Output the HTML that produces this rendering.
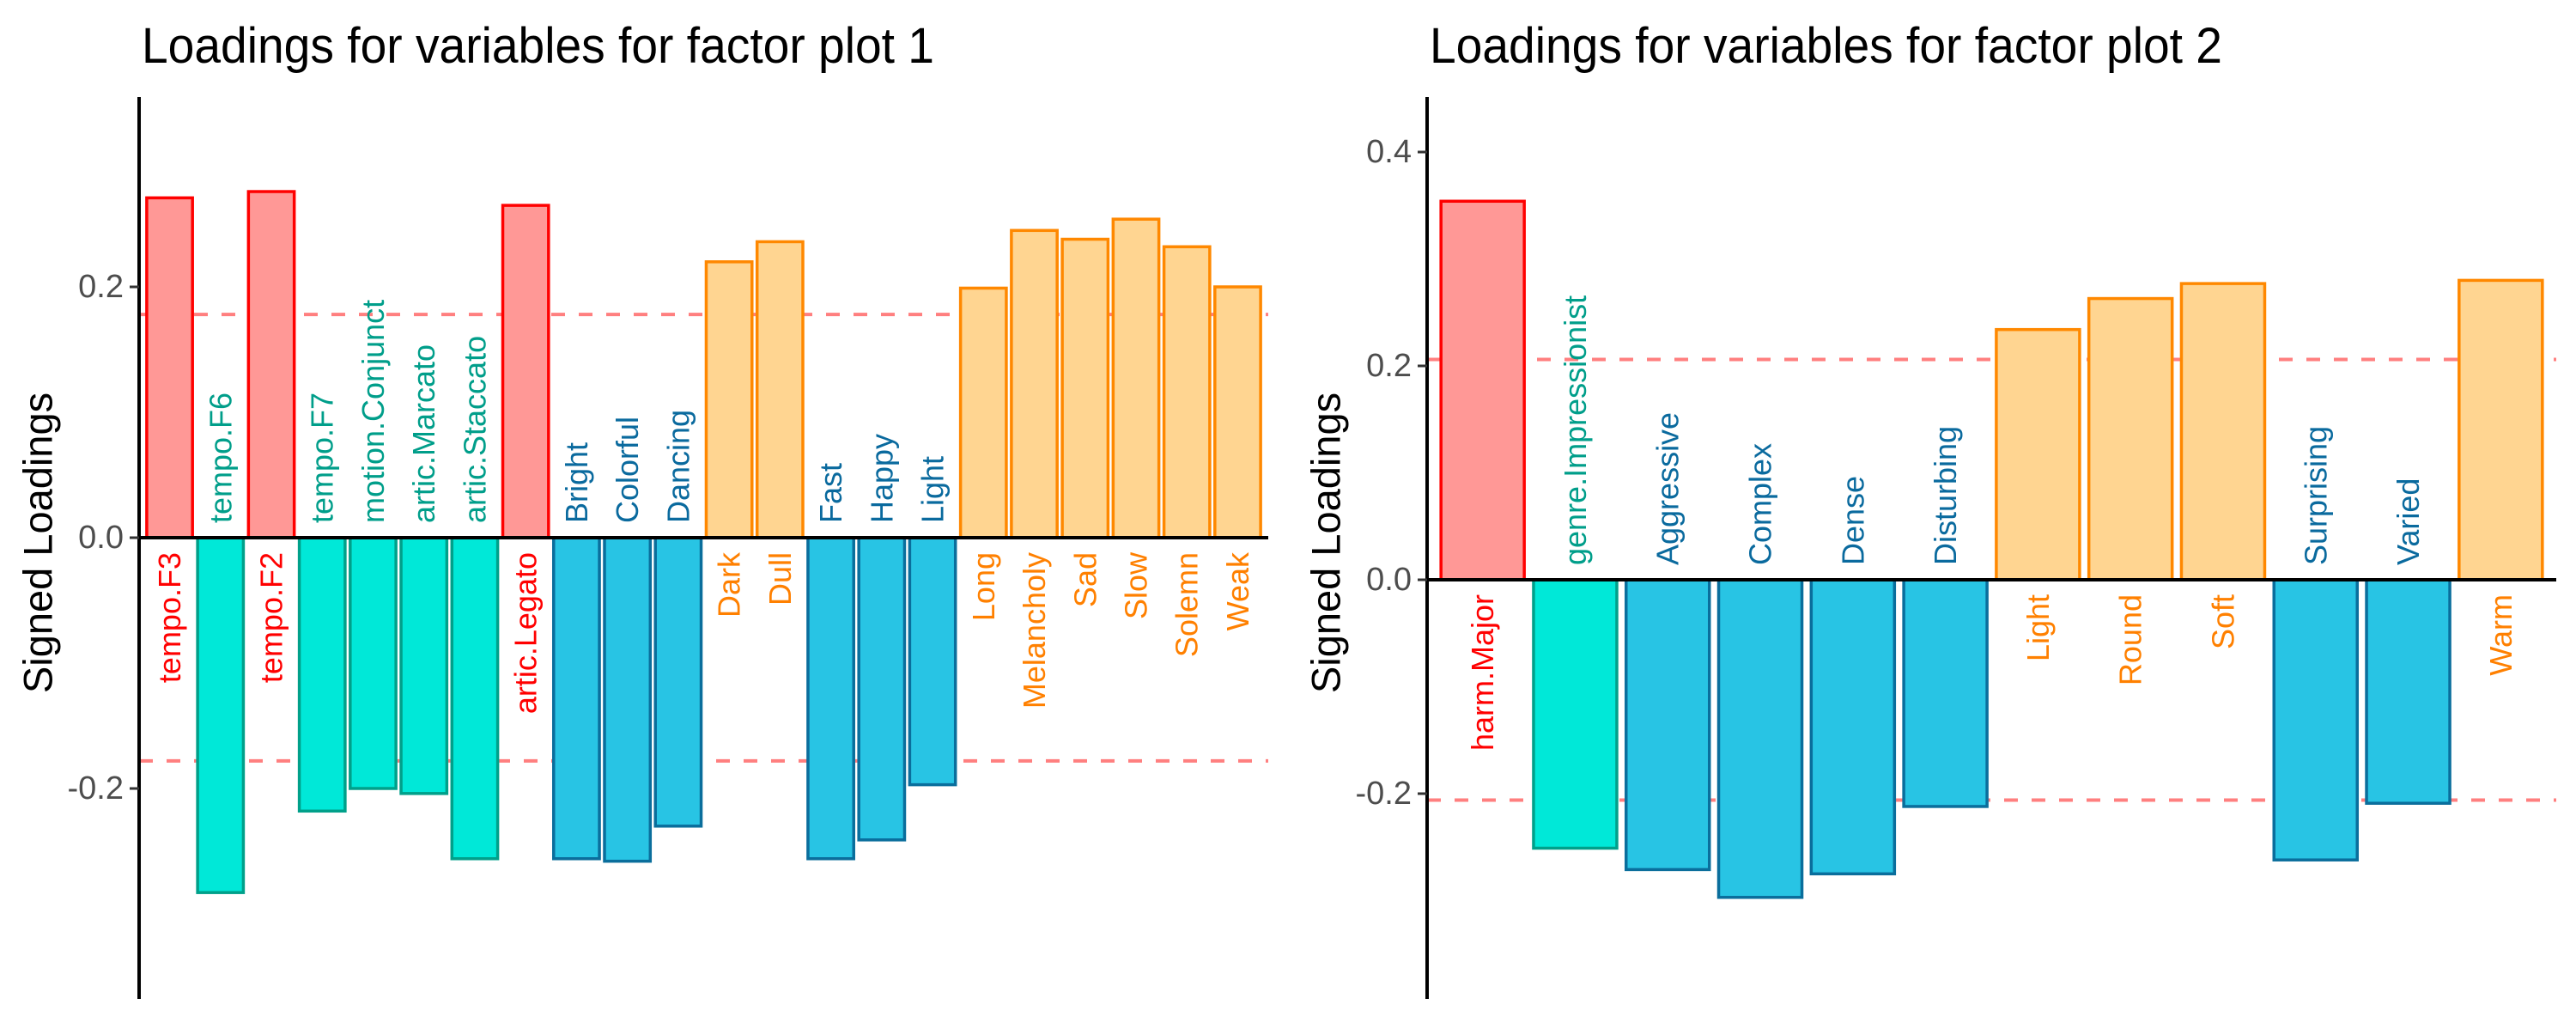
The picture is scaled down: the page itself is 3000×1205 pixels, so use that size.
<!DOCTYPE html>
<html><head><meta charset="utf-8"><style>
html,body{margin:0;padding:0;background:#fff;}
svg text{font-family:"Liberation Sans",Arial,sans-serif;}
</style></head><body>
<svg id="chart" width="3000" height="1200" xmlns="http://www.w3.org/2000/svg"></svg>
<script>
// ----- Panel 1 data -----
const cats1 = ["tempo.F3","tempo.F6","tempo.F2","tempo.F7","motion.Conjunct","artic.Marcato","artic.Staccato","artic.Legato","Bright","Colorful","Dancing","Dark","Dull","Fast","Happy","Light","Long","Melancholy","Sad","Slow","Solemn","Weak"];
const vals1 = [0.271,-0.283,0.276,-0.218,-0.2,-0.204,-0.256,0.265,-0.256,-0.258,-0.23,0.22,0.236,-0.256,-0.241,-0.197,0.199,0.245,0.238,0.254,0.232,0.2];
const groups1 = ["r","t","r","t","t","t","t","r","b","b","b","o","o","b","b","b","o","o","o","o","o","o"];
const ticks1 = [0.2,0.0,-0.2];
const tickLabels1 = ["0.2","0.0","-0.2"];
const thresh1 = [0.178];
// ----- Panel 2 data -----
const cats2 = ["harm.Major","genre.Impressionist","Aggressive","Complex","Dense","Disturbing","Light","Round","Soft","Surprising","Varied","Warm"];
const vals2 = [0.354,-0.251,-0.271,-0.297,-0.275,-0.212,0.234,0.263,0.277,-0.262,-0.209,0.28];
const groups2 = ["r","t","b","b","b","b","o","o","o","b","b","o"];
const ticks2 = [0.4,0.2,0.0,-0.2];
const tickLabels2 = ["0.4","0.2","0.0","-0.2"];
const thresh2 = [0.206];

const fills = {r:"#FF9896",t:"#00E8D8",b:"#28C4E4",o:"#FFD591"};
const strokes = {r:"#FF0000",t:"#00A08A",b:"#0A6E9C",o:"#FF8800"};
const txtCol = {r:"#FF0000",t:"#009E8A",b:"#0A6A9E",o:"#FF8000"};
const NS="http://www.w3.org/2000/svg";
const svg=document.getElementById('chart');
function mk(tag,attrs,parent){const e=document.createElementNS(NS,tag);for(const k in attrs)e.setAttribute(k,attrs[k]);(parent||svg).appendChild(e);return e;}

function panel(ox,title,cats,vals,groups,ticks,tickLabels,thresh,zeroY,pxPerUnit,idx){
  const g=mk('g',{});
  
  
  const x0=ox+162, x1=ox+1477, yTop=113, yBot=1163;
  const n=cats.length, band=(x1-x0)/(n-1+1.2);
  const xc=i=>x0+(i+0.6)*band;
  const y=v=>zeroY-v*pxPerUnit;
  const t=mk('text',{x:ox+165,y:73,'font-size':58,fill:'#000',textLength:923,lengthAdjust:'spacingAndGlyphs'},g);
  t.textContent=title;
  
  
  const yt=mk('text',{x:0,y:0,'font-size':47,fill:'#000','text-anchor':'middle','dominant-baseline':'central',transform:`translate(${ox+44},${zeroY+ (idx===1?6:-43)}) rotate(-90)`},g);
  yt.textContent="Signed Loadings";
  
  
  thresh.forEach(th=>{[th,-th].forEach(v=>{
    const l=mk('line',{x1:x0,x2:x1,y1:y(v),y2:y(v),stroke:'#FF7F7F','stroke-width':4,'stroke-dasharray':'16 16'},g);
    
    
  });});
  vals.forEach((v,i)=>{
    const w=band*0.9, top=Math.min(y(v),zeroY), h=Math.abs(y(v)-zeroY);
    const r=mk('rect',{x:xc(i)-w/2,y:top,width:w,height:h,fill:fills[groups[i]],stroke:strokes[groups[i]],'stroke-width':3.5},g);
    
    
  });
  const zl=mk('line',{x1:x0,x2:x1,y1:zeroY,y2:zeroY,stroke:'#000','stroke-width':4},g);
  
  
  const ax=mk('line',{x1:x0,x2:x0,y1:yTop,y2:yBot,stroke:'#000','stroke-width':4},g);
  
  
  ticks.forEach((tv,i)=>{
    const tk=mk('line',{x1:x0-11,x2:x0,y1:y(tv),y2:y(tv),stroke:'#333','stroke-width':3},g);
    
    
    const tl=mk('text',{x:x0-18,y:y(tv),'font-size':38,fill:'#4D4D4D','text-anchor':'end','dominant-baseline':'central'},g);
    tl.textContent=tickLabels[i];
    
    
  });
  vals.forEach((v,i)=>{
    let ly, anchor;
    if(v>=0){ly=zeroY+17; anchor='end';} else {ly=zeroY-17; anchor='start';}
    const lt=mk('text',{x:0,y:0,'font-size':36,fill:txtCol[groups[i]],'text-anchor':anchor,'dominant-baseline':'central',transform:`translate(${xc(i)},${ly}) rotate(-90)`},g);
    lt.textContent=cats[i];
    
    
  });
}
panel(0,"Loadings for variables for factor plot 1",cats1,vals1,groups1,ticks1,tickLabels1,thresh1,626,1460,1);
panel(1500,"Loadings for variables for factor plot 2",cats2,vals2,groups2,ticks2,tickLabels2,thresh2,675,1245,2);
</script>
</body></html>
